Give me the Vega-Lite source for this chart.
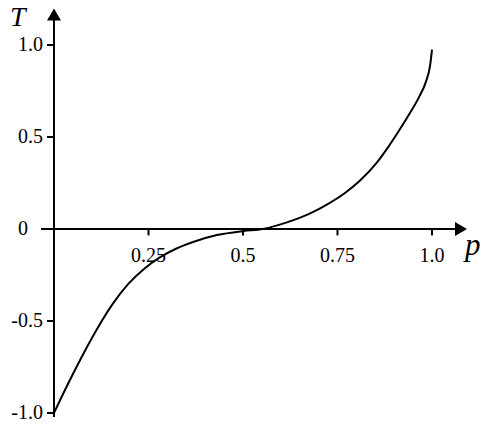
{
  "$schema": "https://vega.github.io/schema/vega-lite/v6.json",
  "width": 484,
  "height": 424,
  "autosize": {"type": "none"},
  "padding": 0,
  "background": "white",
  "config": {"view": {"stroke": null}},
  "datasets": {
    "curve": [
      {"p": 0.0, "T": -1.0},
      {"p": 0.031, "T": -0.867},
      {"p": 0.065, "T": -0.728},
      {"p": 0.112, "T": -0.55},
      {"p": 0.154, "T": -0.411},
      {"p": 0.196, "T": -0.300},
      {"p": 0.238, "T": -0.217},
      {"p": 0.279, "T": -0.156},
      {"p": 0.324, "T": -0.106},
      {"p": 0.366, "T": -0.072},
      {"p": 0.431, "T": -0.033},
      {"p": 0.501, "T": -0.011},
      {"p": 0.553, "T": 0.0},
      {"p": 0.593, "T": 0.021},
      {"p": 0.637, "T": 0.051},
      {"p": 0.679, "T": 0.086},
      {"p": 0.723, "T": 0.134},
      {"p": 0.768, "T": 0.193},
      {"p": 0.809, "T": 0.262},
      {"p": 0.854, "T": 0.361},
      {"p": 0.885, "T": 0.448},
      {"p": 0.91, "T": 0.5255},
      {"p": 0.94, "T": 0.6245},
      {"p": 0.966, "T": 0.718},
      {"p": 0.984, "T": 0.801},
      {"p": 0.995, "T": 0.889},
      {"p": 1.0, "T": 0.975}
    ],
    "xticks": [
      {"p": 0.25, "label": "0.25"},
      {"p": 0.5, "label": "0.5"},
      {"p": 0.75, "label": "0.75"},
      {"p": 1.0, "label": "1.0"}
    ],
    "yticks": [
      {"T": 1.0, "label": "1.0"},
      {"T": 0.5, "label": "0.5"},
      {"T": -0.5, "label": "-0.5"},
      {"T": -1.0, "label": "-1.0"}
    ],
    "axes": [
      {"p": -0.0344, "T": 0, "p2": 1.0767, "T2": 0},
      {"p": 0, "T": -1.022, "p2": 0, "T2": 1.166}
    ]
  },
  "layer": [
    {
      "data": {"name": "axes"},
      "mark": {"type": "rule", "strokeWidth": 2, "color": "black"},
      "encoding": {
        "x": {"field": "p", "type": "quantitative", "scale": {"domain": [-0.142857, 1.137566], "nice": false, "zero": false}, "axis": null},
        "y": {"field": "T", "type": "quantitative", "scale": {"domain": [-1.05978, 1.24457], "nice": false, "zero": false}, "axis": null},
        "x2": {"field": "p2"},
        "y2": {"field": "T2"}
      }
    },
    {
      "data": {"values": [{"p": 0, "T": 1.166}]},
      "mark": {"type": "point", "shape": "triangle-up", "filled": true, "color": "black", "size": 196, "opacity": 1, "strokeWidth": 0},
      "encoding": {
        "x": {"field": "p", "type": "quantitative", "scale": {"domain": [-0.142857, 1.137566], "nice": false, "zero": false}, "axis": null},
        "y": {"field": "T", "type": "quantitative", "scale": {"domain": [-1.05978, 1.24457], "nice": false, "zero": false}, "axis": null}
      }
    },
    {
      "data": {"values": [{"p": 1.0767, "T": 0}]},
      "mark": {"type": "point", "shape": "triangle-right", "filled": true, "color": "black", "size": 190, "opacity": 1, "strokeWidth": 0},
      "encoding": {
        "x": {"field": "p", "type": "quantitative", "scale": {"domain": [-0.142857, 1.137566], "nice": false, "zero": false}, "axis": null},
        "y": {"field": "T", "type": "quantitative", "scale": {"domain": [-1.05978, 1.24457], "nice": false, "zero": false}, "axis": null}
      }
    },
    {
      "data": {"name": "xticks"},
      "mark": {"type": "rule", "strokeWidth": 2, "color": "black"},
      "encoding": {
        "x": {"field": "p", "type": "quantitative", "scale": {"domain": [-0.142857, 1.137566], "nice": false, "zero": false}, "axis": null},
        "y": {"datum": 0, "type": "quantitative", "scale": {"domain": [-1.05978, 1.24457], "nice": false, "zero": false}, "axis": null},
        "y2": {"datum": -0.035}
      }
    },
    {
      "data": {"name": "xticks"},
      "mark": {"type": "text", "font": "Liberation Serif", "fontSize": 20, "align": "center", "baseline": "alphabetic", "color": "black"},
      "encoding": {
        "x": {"field": "p", "type": "quantitative", "scale": {"domain": [-0.142857, 1.137566], "nice": false, "zero": false}, "axis": null},
        "y": {"datum": -0.179, "type": "quantitative", "scale": {"domain": [-1.05978, 1.24457], "nice": false, "zero": false}, "axis": null},
        "text": {"field": "label"}
      }
    },
    {
      "data": {"name": "yticks"},
      "mark": {"type": "rule", "strokeWidth": 2, "color": "black"},
      "encoding": {
        "y": {"field": "T", "type": "quantitative", "scale": {"domain": [-1.05978, 1.24457], "nice": false, "zero": false}, "axis": null},
        "x": {"datum": -0.0185, "type": "quantitative", "scale": {"domain": [-0.142857, 1.137566], "nice": false, "zero": false}, "axis": null},
        "x2": {"datum": 0}
      }
    },
    {
      "data": {"name": "yticks"},
      "mark": {"type": "text", "font": "Liberation Serif", "fontSize": 20, "align": "right", "baseline": "middle", "color": "black"},
      "encoding": {
        "y": {"field": "T", "type": "quantitative", "scale": {"domain": [-1.05978, 1.24457], "nice": false, "zero": false}, "axis": null},
        "x": {"datum": -0.029, "type": "quantitative", "scale": {"domain": [-0.142857, 1.137566], "nice": false, "zero": false}, "axis": null},
        "text": {"field": "label"}
      }
    },
    {
      "data": {"values": [{"T": 0, "label": "0"}]},
      "mark": {"type": "text", "font": "Liberation Serif", "fontSize": 20, "align": "right", "baseline": "middle", "color": "black"},
      "encoding": {
        "y": {"field": "T", "type": "quantitative", "scale": {"domain": [-1.05978, 1.24457], "nice": false, "zero": false}, "axis": null},
        "x": {"datum": -0.0688, "type": "quantitative", "scale": {"domain": [-0.142857, 1.137566], "nice": false, "zero": false}, "axis": null},
        "text": {"field": "label"}
      }
    },
    {
      "data": {"values": [{"label": "T"}]},
      "mark": {"type": "text", "font": "Liberation Serif", "fontSize": 28, "fontStyle": "italic", "align": "center", "baseline": "top", "color": "black"},
      "encoding": {
        "x": {"datum": -0.096, "type": "quantitative", "scale": {"domain": [-0.142857, 1.137566], "nice": false, "zero": false}, "axis": null},
        "y": {"datum": 1.2228, "type": "quantitative", "scale": {"domain": [-1.05978, 1.24457], "nice": false, "zero": false}, "axis": null},
        "text": {"field": "label"}
      }
    },
    {
      "data": {"values": [{"label": "p"}]},
      "mark": {"type": "text", "font": "Liberation Serif", "fontSize": 31, "fontStyle": "italic", "align": "center", "baseline": "alphabetic", "color": "black"},
      "encoding": {
        "x": {"datum": 1.108, "type": "quantitative", "scale": {"domain": [-0.142857, 1.137566], "nice": false, "zero": false}, "axis": null},
        "y": {"datum": -0.141, "type": "quantitative", "scale": {"domain": [-1.05978, 1.24457], "nice": false, "zero": false}, "axis": null},
        "text": {"field": "label"}
      }
    },
    {
      "data": {"name": "curve"},
      "mark": {"type": "line", "interpolate": "monotone", "strokeWidth": 2, "color": "black"},
      "encoding": {
        "x": {"field": "p", "type": "quantitative", "scale": {"domain": [-0.142857, 1.137566], "nice": false, "zero": false}, "axis": null},
        "y": {"field": "T", "type": "quantitative", "scale": {"domain": [-1.05978, 1.24457], "nice": false, "zero": false}, "axis": null}
      }
    }
  ]
}
